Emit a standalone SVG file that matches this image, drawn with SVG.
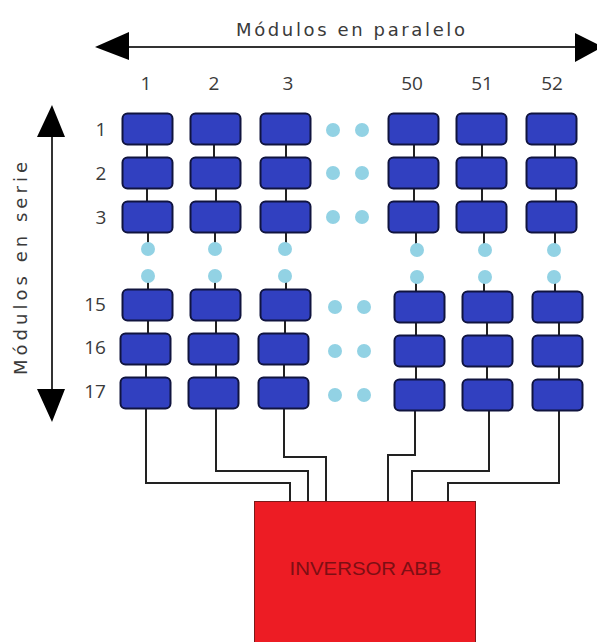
<svg xmlns="http://www.w3.org/2000/svg" width="597" height="642" viewBox="0 0 597 642">
<defs>
<style>
.m{fill:#3140c0;stroke:#10143f;stroke-width:2}
.w{fill:none;stroke:#222;stroke-width:2}
.a{fill:none;stroke:#333;stroke-width:2}
.h{fill:#000}
.d{fill:#92d2e4}
.t{font-family:"Open Sans","Liberation Sans",sans-serif;font-size:19px;fill:#3a3a3a;text-anchor:middle}
.v{font-family:"DejaVu Sans",sans-serif;font-size:18px;fill:#3a3a3a}
</style>
<rect id="mod" class="m" width="50" height="31" rx="5"/>
<circle id="dot" class="d" r="7"/>
</defs>
<rect width="597" height="642" fill="#fff"/>
<g id="connectors">
<path class="w" d="M147 145V157M147 189V201M214 145V157M216 189V201M286 145V157M286 189V201M414 145V157M414 189V201M482 145V157M482 189V201M555 145V157M556 189V201"/>
<path class="w" d="M148 233V243M215 233V243M286 233V243M416 233V244M484 233V244M555 233V244M148 282V290M215 282V290M286 282V290M416 283V292M484 283V292M555 283V292"/>
<path class="w" d="M148 321V333M216 321V333M285 321V333M416 323V335M487 323V335M559 323V335M146 365V377M216 365V377M284 365V377M416 367V379M487 367V379M559 367V379"/>
<path class="w" d="M146 409V483H290V501M216 409V471H308V501M284 409V457H326V501M415 411V455H388V501M489 411V471H412V501M559 411V483H448V501"/>
</g>
<g id="arrow-parallel">
<path class="a" d="M125 47H578"/>
<path class="h" d="M95 47L129 32V60ZM575 33L597 44V50L575 62Z"/>
</g>
<g id="arrow-series">
<path class="a" d="M52 135V392"/>
<path class="h" d="M52 105L65 137H37ZM37 389H65L52 422Z"/>
</g>
<g id="modules">
<g id="n1-1"><use href="#mod" x="122.500" y="113.500"/></g><g id="n2-1"><use href="#mod" x="190.500" y="113.500"/></g><g id="n3-1"><use href="#mod" x="260.500" y="113.500"/></g><g id="n50-1"><use href="#mod" x="388.500" y="113.500"/></g><g id="n51-1"><use href="#mod" x="456.500" y="113.500"/></g><g id="n52-1"><use href="#mod" x="526.500" y="113.500"/></g>
<g id="n1-2"><use href="#mod" x="122.500" y="157.500"/></g><g id="n2-2"><use href="#mod" x="190.500" y="157.500"/></g><g id="n3-2"><use href="#mod" x="260.500" y="157.500"/></g><g id="n50-2"><use href="#mod" x="388.500" y="157.500"/></g><g id="n51-2"><use href="#mod" x="456.500" y="157.500"/></g><g id="n52-2"><use href="#mod" x="526.500" y="157.500"/></g>
<g id="n1-3"><use href="#mod" x="122.500" y="201.500"/></g><g id="n2-3"><use href="#mod" x="190.500" y="201.500"/></g><g id="n3-3"><use href="#mod" x="260.500" y="201.500"/></g><g id="n50-3"><use href="#mod" x="388.500" y="201.500"/></g><g id="n51-3"><use href="#mod" x="456.500" y="201.500"/></g><g id="n52-3"><use href="#mod" x="526.500" y="201.500"/></g>
<g id="n1-15"><use href="#mod" x="122.500" y="289.500"/></g><g id="n2-15"><use href="#mod" x="190.500" y="289.500"/></g><g id="n3-15"><use href="#mod" x="260.500" y="289.500"/></g><g id="n50-15"><use href="#mod" x="394.500" y="291.500"/></g><g id="n51-15"><use href="#mod" x="462.500" y="291.500"/></g><g id="n52-15"><use href="#mod" x="532.500" y="291.500"/></g>
<g id="n1-16"><use href="#mod" x="120.500" y="333.500"/></g><g id="n2-16"><use href="#mod" x="188.500" y="333.500"/></g><g id="n3-16"><use href="#mod" x="258.500" y="333.500"/></g><g id="n50-16"><use href="#mod" x="394.500" y="335.500"/></g><g id="n51-16"><use href="#mod" x="462.500" y="335.500"/></g><g id="n52-16"><use href="#mod" x="532.500" y="335.500"/></g>
<g id="n1-17"><use href="#mod" x="120.500" y="377.500"/></g><g id="n2-17"><use href="#mod" x="188.500" y="377.500"/></g><g id="n3-17"><use href="#mod" x="258.500" y="377.500"/></g><g id="n50-17"><use href="#mod" x="394.500" y="379.500"/></g><g id="n51-17"><use href="#mod" x="462.500" y="379.500"/></g><g id="n52-17"><use href="#mod" x="532.500" y="379.500"/></g>
</g>
<g id="dots">
<use href="#dot" x="148" y="249"/><use href="#dot" x="148" y="276"/><use href="#dot" x="215" y="249"/><use href="#dot" x="215" y="276"/><use href="#dot" x="285" y="249"/><use href="#dot" x="285" y="276"/>
<use href="#dot" x="417" y="250"/><use href="#dot" x="417" y="277"/><use href="#dot" x="485" y="250"/><use href="#dot" x="485" y="277"/><use href="#dot" x="554" y="250"/><use href="#dot" x="554" y="277"/>
<use href="#dot" x="333" y="130"/><use href="#dot" x="362" y="130"/><use href="#dot" x="333" y="173"/><use href="#dot" x="362" y="173"/><use href="#dot" x="333" y="217"/><use href="#dot" x="362" y="217"/>
<use href="#dot" x="335" y="307"/><use href="#dot" x="364" y="307"/><use href="#dot" x="335" y="351"/><use href="#dot" x="364" y="351"/><use href="#dot" x="335" y="395"/><use href="#dot" x="364" y="395"/>
</g>
<g id="inverter">
<rect x="254.500" y="501.500" width="221" height="142" fill="#ed1c24" stroke="#7a1a1a"/>
<text x="365.500" y="575" font-family="Liberation Sans,sans-serif" font-size="19" fill="#7d0f14" text-anchor="middle" textLength="152" lengthAdjust="spacingAndGlyphs">INVERSOR ABB</text>
</g>
<g id="labels">
<text class="v" x="236" y="36" textLength="229">Módulos en paralelo</text>
<text class="t" x="146" y="90">1</text><text class="t" x="214" y="90">2</text><text class="t" x="288" y="90">3</text><text class="t" x="412" y="90">50</text><text class="t" x="482" y="90">51</text><text class="t" x="552" y="90">52</text>
<text class="t" x="101" y="136">1</text><text class="t" x="101" y="180">2</text><text class="t" x="101" y="224">3</text><text class="t" x="95" y="311">15</text><text class="t" x="95" y="354">16</text><text class="t" x="95" y="398">17</text>
<text class="v" transform="translate(27 375) rotate(-90)" x="0" y="0" textLength="213">Módulos en serie</text>
</g>
</svg>
